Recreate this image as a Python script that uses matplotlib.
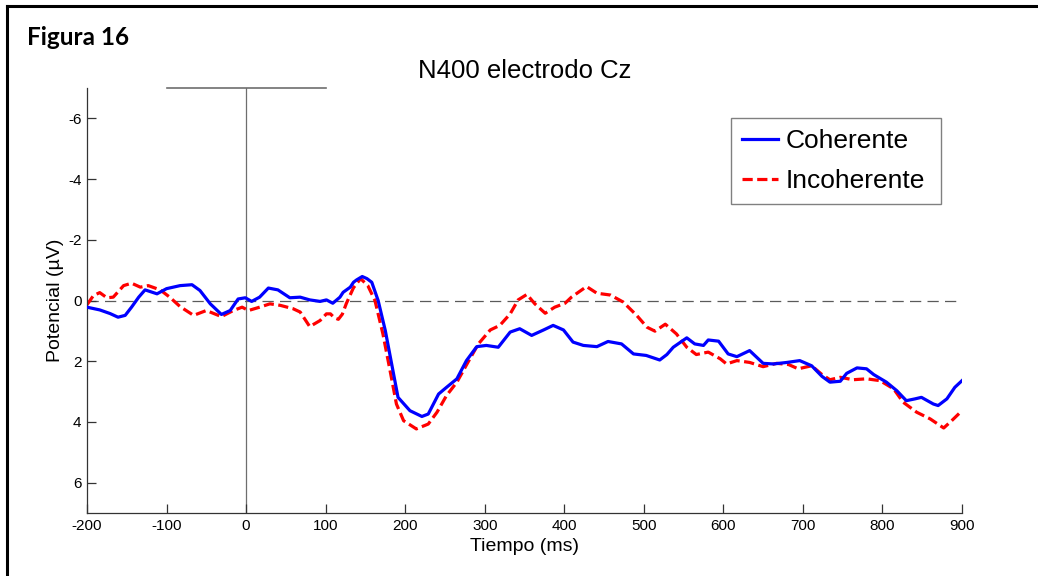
"""N400 at electrode Cz: grand-average ERP for coherent vs incoherent endings."""

import matplotlib

matplotlib.use("Agg")
import matplotlib.pyplot as plt
from matplotlib.lines import Line2D

plt.rcParams["font.family"] = ["Liberation Sans", "DejaVu Sans"]
plt.rcParams["axes.unicode_minus"] = False

# grand-average waveforms (ms, microvolts), negative plotted upward
coh_ms = [-200, -184, -171, -161, -152, -144, -135, -127, -112, -100, -83, -68, -58,
          -45, -31, -20, -10, -1, 7, 17, 28, 40, 55, 68, 80, 93, 101, 109, 118, 122,
          131, 135, 139, 146, 152, 158, 166, 175, 183, 191, 206, 221, 229, 242, 252,
          265, 277, 290, 302, 317, 332, 344, 359, 374, 386, 399, 411, 424, 441, 455,
          472, 487, 503, 520, 529, 537, 554, 564, 575, 581, 594, 606, 617, 633, 650,
          663, 680, 696, 711, 724, 734, 747, 755, 768, 780, 789, 805, 818, 830, 841,
          849, 864, 870, 881, 891, 900]
coh_uv = [0.22, 0.31, 0.43, 0.55, 0.49, 0.22, -0.11, -0.35, -0.22, -0.39, -0.49, -0.52,
          -0.33, 0.11, 0.46, 0.33, -0.05, -0.09, 0.03, -0.11, -0.41, -0.35, -0.09, -0.11,
          -0.02, 0.03, -0.02, 0.09, -0.11, -0.27, -0.44, -0.6, -0.68, -0.79, -0.72, -0.6,
          0.0, 0.99, 2.09, 3.19, 3.63, 3.82, 3.74, 3.08, 2.86, 2.58, 1.98, 1.52, 1.48,
          1.54, 1.04, 0.93, 1.15, 0.97, 0.82, 0.97, 1.37, 1.48, 1.52, 1.35, 1.43, 1.76,
          1.81, 1.96, 1.78, 1.54, 1.23, 1.43, 1.48, 1.3, 1.34, 1.76, 1.85, 1.65, 2.07,
          2.09, 2.04, 1.98, 2.15, 2.5, 2.69, 2.66, 2.4, 2.22, 2.25, 2.44, 2.69, 2.97,
          3.3, 3.24, 3.19, 3.41, 3.46, 3.24, 2.86, 2.64]

inc_ms = [-200, -192, -184, -175, -167, -154, -144, -133, -123, -108, -96, -83, -66,
          -50, -31, -16, -5, 3, 17, 30, 43, 59, 68, 80, 93, 101, 106, 111, 116, 121,
          126, 135, 144, 153, 162, 172, 181, 189, 198, 214, 229, 240, 252, 265, 279,
          292, 307, 319, 332, 342, 353, 363, 376, 388, 401, 409, 428, 441, 458, 474,
          491, 504, 514, 527, 541, 554, 566, 581, 596, 604, 617, 633, 650, 667, 682,
          694, 711, 724, 734, 747, 763, 780, 797, 814, 826, 843, 860, 877, 887, 900]
inc_uv = [0.14, -0.16, -0.26, -0.09, -0.11, -0.49, -0.57, -0.44, -0.49, -0.35, -0.11,
          0.2, 0.49, 0.33, 0.53, 0.33, 0.22, 0.33, 0.22, 0.11, 0.16, 0.27, 0.38, 0.86,
          0.66, 0.44, 0.44, 0.57, 0.62, 0.45, 0.1, -0.42, -0.72, -0.49, 0.0, 1.1, 2.31,
          3.41, 3.96, 4.23, 4.07, 3.68, 3.13, 2.69, 2.03, 1.43, 0.97, 0.82, 0.44, -0.02,
          -0.2, 0.11, 0.42, 0.22, 0.09, -0.11, -0.46, -0.24, -0.18, 0.05, 0.49, 0.88,
          1.01, 0.78, 1.1, 1.54, 1.78, 1.7, 1.92, 2.09, 1.98, 2.04, 2.18, 2.07, 2.11,
          2.25, 2.15, 2.44, 2.61, 2.53, 2.61, 2.58, 2.64, 2.91, 3.35, 3.68, 3.9, 4.2,
          3.96, 3.63]

x_ticks = [-200, -100, 0, 100, 200, 300, 400, 500, 600, 700, 800, 900]
y_ticks = [-6, -4, -2, 0, 2, 4, 6]

W, H = 1038, 576
fig = plt.figure(figsize=(W / 100, H / 100), dpi=100)
ax = fig.add_axes([87 / W, 63 / H, 875 / W, 425 / H])

# onset marker and baseline
ax.plot([0, 0], [-7, 7], color="#6e6e6e", lw=0.9, zorder=1)
ax.plot([-100, 100], [-7, -7], color="#6e6e6e", lw=1.2, zorder=1, clip_on=False)
ax.plot([-200, 900], [0, 0], color="#5a5a5a", lw=0.9, dashes=(9, 5), zorder=1)

ax.plot(coh_ms, coh_uv, color="#0000ff", lw=2.3, label="Coherente", zorder=3)
ax.plot(inc_ms, inc_uv, color="#ff0000", lw=2.3, dashes=(3.2, 1.4),
        label="Incoherente", zorder=2)

ax.set_xlim(-200, 900)
ax.set_ylim(7, -7)
ax.set_xticks(x_ticks)
ax.set_yticks(y_ticks)
ax.tick_params(direction="in", length=6.5, width=0.9, labelsize=11, pad=4,
               color="#333333")
for side in ("top", "right"):
    ax.spines[side].set_visible(False)
for side in ("left", "bottom"):
    ax.spines[side].set_color("#333333")
    ax.spines[side].set_linewidth(0.9)

ax.set_xlabel("Tiempo (ms)", fontsize=14, labelpad=4)
ax.set_ylabel("Potencial (\u00b5V)", fontsize=14, labelpad=3)
ax.set_title("N400 electrodo Cz", fontsize=18.5, pad=7)

# legend box spans a fixed region, entries stay left-aligned
leg = ax.legend(loc="upper left", mode="expand",
                bbox_to_anchor=((731 - 87) / 875, (513 - 199) / 425, 210 / 875, 81 / 425),
                fontsize=19, handlelength=1.35, handletextpad=0.3, labelspacing=0.6,
                borderpad=0.42, borderaxespad=0, fancybox=False, framealpha=1)
leg.get_frame().set_edgecolor("#808080")
leg.get_frame().set_linewidth(1.0)

# page frame and figure label
fig.add_artist(Line2D([7 / W, 7 / W], [0, 1 - 6 / H], transform=fig.transFigure,
                      color="black", lw=2.2))
fig.add_artist(Line2D([7 / W, 1], [1 - 6 / H, 1 - 6 / H], transform=fig.transFigure,
                      color="black", lw=2.2))
fig.text(27 / W, 1 - 45 / H, "Figura 16", fontsize=17.5, fontweight="bold",
         family=["Lato", "DejaVu Sans"], va="baseline", ha="left")

fig.savefig("out.png", dpi=100)
